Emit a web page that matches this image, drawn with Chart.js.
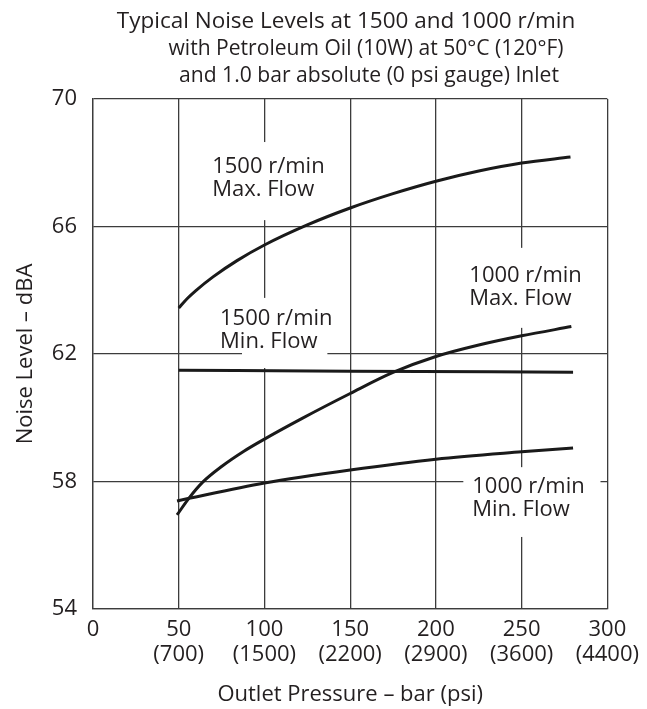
<!DOCTYPE html>
<html>
<head>
<meta charset="utf-8">
<script src="https://cdn.jsdelivr.net/npm/chart.js@4.4.0/dist/chart.umd.min.js"></script>
<style>
  html, body { margin: 0; padding: 0; background: #fff; }
</style>
</head>
<body>
<canvas id="noiseChart" width="647" height="709"></canvas>
<script>
// Axis ticks
const pressureBar = [0, 50, 100, 150, 200, 250, 300];
const pressurePsi = ['', '(700)', '(1500)', '(2200)', '(2900)', '(3600)', '(4400)'];
const noiseTicks = [54, 58, 62, 66, 70];

// Curves (bar, dBA)
const x1500Max = [50, 55, 60, 70, 84, 100, 125, 150, 175, 200, 225, 250, 278.5];
const y1500Max = [63.44, 63.74, 63.99, 64.42, 64.93, 65.42, 66.05, 66.58, 67.03, 67.42, 67.74, 67.99, 68.18];

const x1500Min = [50, 150, 280];
const y1500Min = [61.49, 61.46, 61.43];

const x1000Max = [49, 56, 64, 75, 88, 100, 122, 150, 175, 200, 225, 250, 279];
const y1000Max = [56.95, 57.48, 57.98, 58.47, 58.95, 59.33, 59.98, 60.76, 61.42, 61.92, 62.28, 62.57, 62.86];

const x1000Min = [49, 100, 150, 200, 250, 280];
const y1000Min = [57.39, 57.95, 58.36, 58.7, 58.93, 59.05];

const titleLines = [
    'Typical Noise Levels at 1500 and 1000 r/min',
    'with Petroleum Oil (10W) at 50°C (120°F)',
    'and 1.0 bar absolute (0 psi gauge) Inlet'
];

// Curve labels, anchored in data units (left edge, first baseline) with a white mask behind
const curveLabels = [
    { lines: ['1500 r/min', 'Max. Flow'], x: 69.5, y: 67.68, mask: [64.9, 137.3, 66.2, 68.65] },
    { lines: ['1500 r/min', 'Min. Flow'], x: 74.1, y: 62.91, mask: [86.9, 136.7, 61.56, 63.76] },
    { lines: ['1000 r/min', 'Max. Flow'], x: 219.5, y: 64.26, mask: [215.4, 287.8, 62.82, 65.33] },
    { lines: ['1000 r/min', 'Min. Flow'], x: 221.2, y: 57.64, mask: [216, 296, 56.26, 58.45] }
];

const FONT = "'Open Sans', sans-serif";
const TEXT = '#231f20';
const GRID = '#3c3c3c';

function points(xs, ys) {
    return xs.map((x, i) => ({ x: x, y: ys[i] }));
}

function curve(xs, ys) {
    return {
        data: points(xs, ys),
        borderColor: '#1a1a1a',
        borderWidth: 3,
        pointRadius: 0,
        cubicInterpolationMode: 'monotone',
        fill: false
    };
}

// Title lines and curve labels
const textPlugin = {
    id: 'texts',
    beforeDatasetsDraw(chart) {
        const ctx = chart.ctx;
        const xs = chart.scales.x, ys = chart.scales.y;
        ctx.save();
        ctx.fillStyle = '#fff';
        curveLabels.forEach(l => {
            const x0 = xs.getPixelForValue(l.mask[0]);
            const x1 = xs.getPixelForValue(l.mask[1]);
            const y0 = ys.getPixelForValue(l.mask[3]);
            const y1 = ys.getPixelForValue(l.mask[2]);
            ctx.fillRect(x0, y0, x1 - x0, y1 - y0);
        });
        ctx.fillStyle = TEXT;
        ctx.font = '22px ' + FONT;
        ctx.textAlign = 'left';
        ctx.textBaseline = 'alphabetic';
        curveLabels.forEach(l => {
            const px = xs.getPixelForValue(l.x);
            const py = ys.getPixelForValue(l.y);
            l.lines.forEach((t, i) => ctx.fillText(t, px, py + i * 23.5));
        });
        ctx.restore();
    },
    afterDraw(chart) {
        const ctx = chart.ctx;
        // each title line has its own centre and width in the original
        const centres = [346, 366, 369];
        const widths = [460, 395, 380];
        ctx.save();
        ctx.fillStyle = TEXT;
        ctx.font = '22.5px ' + FONT;
        ctx.textAlign = 'center';
        ctx.textBaseline = 'alphabetic';
        titleLines.forEach((t, i) => ctx.fillText(t, centres[i], 28 + i * 27, widths[i]));
        ctx.restore();
    }
};

const ctx = document.getElementById('noiseChart').getContext('2d');
new Chart(ctx, {
    type: 'line',
    data: {
        datasets: [
            curve(x1500Max, y1500Max),
            curve(x1500Min, y1500Min),
            curve(x1000Max, y1000Max),
            curve(x1000Min, y1000Min)
        ]
    },
    options: {
        responsive: false,
        animation: false,
        layout: { padding: { top: 99, right: 36, bottom: 0, left: 0 } },
        plugins: {
            legend: { display: false },
            tooltip: { enabled: false }
        },
        scales: {
            x: {
                type: 'linear',
                min: 0,
                max: 300,
                afterFit: s => { s.height = 100; },
                afterBuildTicks: s => { s.ticks = pressureBar.map(v => ({ value: v })); },
                grid: { color: GRID, lineWidth: 1.3, drawTicks: false },
                border: { color: GRID, width: 1.3 },
                ticks: {
                    color: TEXT,
                    padding: 8,
                    maxRotation: 0,
                    autoSkip: false,
                    font: { family: FONT, size: 22, lineHeight: 1.15 },
                    callback: v => {
                        const i = pressureBar.indexOf(v);
                        return pressurePsi[i] ? [String(v), pressurePsi[i]] : String(v);
                    }
                },
                title: {
                    display: true,
                    text: 'Outlet Pressure – bar (psi)',
                    color: TEXT,
                    font: { family: FONT, size: 22 },
                    padding: { top: 0, bottom: 1 }
                }
            },
            y: {
                min: 54,
                max: 70,
                afterFit: s => { s.width = 93; },
                afterBuildTicks: s => { s.ticks = noiseTicks.map(v => ({ value: v })); },
                grid: { color: GRID, lineWidth: 1.3, drawTicks: false },
                border: { color: GRID, width: 1.3 },
                ticks: {
                    color: TEXT,
                    padding: 16,
                    font: { family: FONT, size: 22 }
                },
                title: {
                    display: true,
                    text: 'Noise Level – dBA',
                    color: TEXT,
                    font: { family: FONT, size: 22 },
                    padding: { top: 13, bottom: 0 }
                }
            }
        }
    },
    plugins: [textPlugin]
});
</script>
</body>
</html>
